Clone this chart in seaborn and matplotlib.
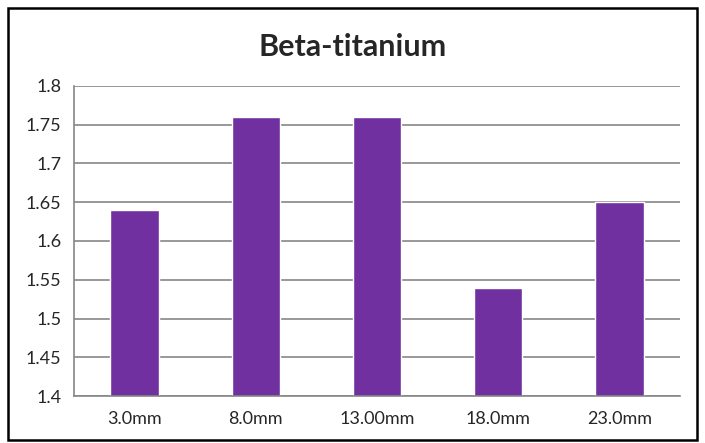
import pandas as pd
import seaborn as sns
from matplotlib import pyplot as plt
from matplotlib.patches import Rectangle

# 数据
categories = ['3.0mm', '8.0mm', '13.00mm', '18.0mm', '23.0mm']
values = [1.64, 1.76, 1.76, 1.54, 1.65]
y_ticks = [1.4, 1.45, 1.5, 1.55, 1.6, 1.65, 1.7, 1.75, 1.8]

df = pd.DataFrame({'size': categories, 'value': values})

sns.set_theme(style='white')
plt.rcParams['font.family'] = ['Lato', 'DejaVu Sans']

fig = plt.figure(figsize=(7.05, 4.43), dpi=100)
ax = fig.add_axes([0.105, 0.106, 0.8595, 0.70])

sns.barplot(data=df, x='size', y='value', color='#7030A0', width=0.4,
            saturation=1, ax=ax)

ax.set_ylim(1.4, 1.8)
ax.set_yticks(y_ticks)
ax.set_yticklabels([f'{t:g}' for t in y_ticks], fontsize=13)
ax.set_xlim(-0.5, len(categories) - 0.5)
ax.set_xticks([i - 0.5 for i in range(len(categories) + 1)], minor=False)
ax.set_xticklabels([])
ax.set_xticks(range(len(categories)), minor=True)
ax.set_xticklabels(categories, minor=True, fontsize=13)
ax.tick_params(axis='x', which='minor', length=0, pad=11)
ax.tick_params(axis='x', which='major', length=5, color='#868686', width=1.2, direction='out')
ax.tick_params(axis='y', length=5, color='#868686', width=1.2, direction='out', pad=4)
ax.set_xlabel('')
ax.set_ylabel('')

ax.yaxis.grid(True, color='#868686', linewidth=1.2)
ax.set_axisbelow(True)
for side in ['top', 'right']:
    ax.spines[side].set_visible(False)
for side in ['left', 'bottom']:
    ax.spines[side].set_color('#868686')
    ax.spines[side].set_linewidth(1.2)

fig.text(0.5, 0.893, 'Beta-titanium', ha='center', va='center',
         fontsize=22, fontweight='bold')

# 外框
fig.patches.append(Rectangle((8 / 705, 3 / 443), 689 / 705, 432 / 443,
                             transform=fig.transFigure, fill=False,
                             edgecolor='black', linewidth=1.8))

plt.savefig('out.png', dpi=100)
